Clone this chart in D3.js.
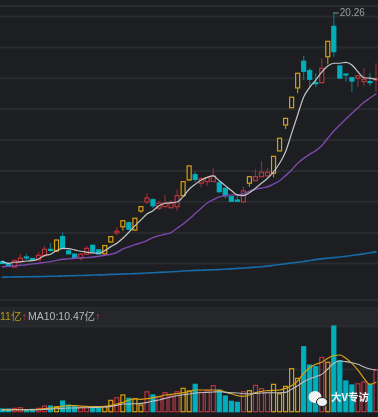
<!DOCTYPE html>
<html>
<head>
<meta charset="utf-8">
<script src="https://cdn.jsdelivr.net/npm/d3@7"></script>
<style>
  html, body { margin: 0; padding: 0; background: #1c1e22; overflow: hidden; }
  svg { display: block; filter: blur(0.25px); }
  .grid line { stroke: #2a2b2e; stroke-width: 2; }
  .grid path { display: none; }
  .line { fill: none; stroke-linejoin: round; stroke-linecap: round; }
  text { font-family: "Liberation Sans", "Noto Sans CJK SC", sans-serif; }
</style>
</head>
<body>
<div id="chart"></div>
<script>
// r = red, g = gold, c = cyan
const kinds = [
  'c','c','r','r','c','c','r','r','c','g','c','c','c','r','r','c','c','g','g','r','g',
  'c','g','g','r','c','r','r','r','r','g','g','c','r','r','r','c','c','c','c','r','g',
  'r','r','r','g','g','g','g','g','c','c','c','r','g','c','c','c','c','r','r','c','r'
];

const high = [4.20,4.00,4.26,4.59,4.59,4.33,4.70,5.10,5.28,5.49,5.97,4.89,4.63,4.63,5.10,5.17,4.89,5.13,5.71,6.34,6.74,
  6.66,6.90,7.65,8.52,8.19,8.04,8.41,8.08,8.78,9.27,10.29,9.91,9.55,9.59,10.17,9.27,8.88,8.34,8.41,8.94,9.59,
  10.09,10.61,10.17,10.91,12.08,13.37,14.74,16.29,17.41,16.61,16.29,17.26,18.36,20.26,16.83,16.29,16.03,16.16,16.61,16.29,16.94];
const low = [3.94,3.81,3.71,4.07,4.20,4.13,4.13,4.41,4.73,4.73,4.89,4.59,4.31,4.15,4.52,4.70,4.59,4.54,5.32,5.82,6.09,
  6.14,6.09,7.26,7.82,7.55,7.44,7.61,7.55,7.37,8.34,9.33,9.23,8.90,9.01,9.27,8.55,8.19,7.97,7.95,7.87,8.94,
  9.33,9.59,9.64,9.55,11.26,12.68,14.06,15.00,15.85,15.38,15.38,15.68,16.87,17.36,15.94,15.75,15.06,15.42,15.47,15.47,15.10];
// body top and bottom
const bodyTop = [4.09,3.98,4.15,4.31,4.39,4.29,4.50,4.89,4.88,5.49,5.71,4.78,4.57,4.57,4.95,5.15,4.85,5.13,5.71,6.06,6.74,
  6.61,6.90,7.65,8.21,8.10,7.87,7.87,7.87,8.36,9.27,10.29,9.72,9.46,9.53,9.64,9.20,8.84,8.30,8.08,8.67,9.59,
  9.59,9.88,9.88,10.91,12.08,13.37,14.74,16.29,17.07,16.46,15.68,16.61,18.36,19.33,16.76,16.24,16.00,16.13,15.90,15.75,15.94];
const bodyBottom = [3.97,3.81,3.74,4.09,4.35,4.17,4.20,4.48,4.85,4.78,4.95,4.59,4.35,4.31,4.57,4.73,4.59,4.59,5.36,5.95,6.35,
  6.19,6.14,7.37,7.95,7.71,7.55,7.65,7.58,7.65,8.36,9.38,9.42,9.17,9.27,9.27,8.62,8.36,8.00,8.00,7.97,9.17,
  9.33,9.59,9.64,9.81,11.26,12.94,14.06,15.34,16.42,15.90,15.64,15.68,17.36,17.69,15.98,16.20,15.79,15.97,15.75,15.71,15.85];

const ma5 = [4.09,3.98,4.05,4.07,4.13,4.15,4.26,4.48,4.57,4.80,4.95,4.93,4.85,4.76,4.70,4.65,4.63,4.80,5.06,5.28,5.60,
  5.99,6.40,6.79,7.18,7.39,7.71,7.87,7.91,7.95,8.30,8.78,9.10,9.38,9.55,9.64,9.33,9.01,8.69,8.41,8.36,8.55,
  8.84,9.17,9.49,9.91,10.46,11.21,12.40,13.59,14.75,15.38,15.85,16.36,16.76,16.94,16.94,17.00,16.83,16.39,16.00,15.97,15.90];
const ma10 = [3.76,3.78,3.81,3.85,3.89,3.94,3.98,4.04,4.09,4.17,4.24,4.27,4.31,4.33,4.35,4.39,4.44,4.50,4.57,4.68,4.91,
  5.04,5.19,5.30,5.45,5.64,5.77,5.86,5.97,6.25,6.53,6.85,7.20,7.55,7.89,8.10,8.28,8.36,8.41,8.41,8.47,8.65,
  8.78,8.86,8.94,9.12,9.33,9.66,10.03,10.46,10.78,11.04,11.28,11.60,12.08,12.55,12.94,13.33,13.70,14.06,14.41,14.69,14.95];
const ma250 = [3.08,3.09,3.10,3.10,3.11,3.12,3.12,3.13,3.14,3.14,3.16,3.17,3.18,3.19,3.20,3.22,3.23,3.24,3.26,3.27,3.29,
  3.30,3.31,3.33,3.35,3.37,3.39,3.41,3.43,3.45,3.48,3.50,3.52,3.53,3.55,3.56,3.58,3.60,3.62,3.65,3.67,3.70,
  3.73,3.76,3.80,3.85,3.90,3.95,4.00,4.05,4.10,4.16,4.22,4.27,4.31,4.35,4.39,4.44,4.49,4.54,4.59,4.66,4.72];

const volume = [.67,.67,.84,1.0,.42,.59,.84,1.42,1.42,1.26,2.68,1.67,1.26,1.0,1.26,1.26,.84,1.26,2.85,3.5,4.2,
  3.35,3.26,1.67,5.0,4.2,3.77,4.77,3.93,5.0,5.86,5.2,6.86,4.85,5.27,6.53,5.44,3.93,2.6,2.34,5.0,5.27,
  6.6,5.77,4.77,6.86,4.52,6.36,10.8,8.37,16.3,11.7,11.3,13.6,12.4,21.5,12.8,7.7,6.7,7.0,7.5,6.86,10.5];
const volMa5 = [.50,.50,.50,.50,.50,.50,.59,.75,.92,1.0,1.42,1.51,1.51,1.42,1.34,1.26,1.26,1.34,1.59,1.93,2.34,
  2.93,3.18,3.10,3.26,3.52,3.77,4.19,4.35,4.52,4.77,5.02,5.44,5.44,5.44,5.44,5.36,4.94,4.52,4.02,3.85,4.19,
  4.77,5.11,5.27,5.36,5.44,5.86,6.53,7.70,9.63,11.05,11.89,12.39,13.39,14.06,14.23,13.39,12.14,10.46,8.37,6.86,7.37];
const volMa10 = [.42,.42,.50,.50,.50,.50,.50,.59,.67,.75,.84,.92,.92,1.0,1.0,1.09,1.09,1.17,1.34,1.59,1.93,
  1.93,2.01,2.09,2.34,2.68,2.93,3.35,3.68,4.02,4.27,4.44,4.69,4.77,4.85,4.94,5.02,4.85,4.77,4.69,4.52,4.52,
  4.60,4.69,4.77,4.77,4.77,4.85,5.61,6.53,7.53,8.29,8.79,9.37,10.71,12.14,12.72,12.56,12.30,11.89,11.22,10.71,10.47];

const priceTicks = [4, 6, 8, 10, 12, 14, 16, 18, 20];
const volTicks = [10.7, 21.5];
const maxLabel = '20.26';

const width = 378;
const height = 417;

const colors = { r: '#bd343c', g: '#d9a00f', c: '#00aebc' };
const wickColors = { r: '#8d2c34', g: '#b98812', c: '#0f7480' };

const xScale = d3.scaleLinear()
  .domain([0, kinds.length - 1])
  .range([2.3, 376]);

const yScale = d3.scaleLinear()
  .domain([4, 20])
  .range([263, 16]);

const vScale = d3.scaleLinear()
  .domain([0, 21.5])
  .range([411.7, 326]);

const line = d3.line()
  .x((d, i) => xScale(i))
  .y(d => yScale(d))
  .curve(d3.curveMonotoneX);

const volLine = d3.line()
  .x((d, i) => xScale(i))
  .y(d => vScale(d))
  .curve(d3.curveMonotoneX);

const svg = d3.select('#chart')
  .append('svg')
    .attr('width', width)
    .attr('height', height);

svg.append('rect')
  .attr('width', width)
  .attr('height', height)
  .attr('fill', '#1c1e22');

// top frame line and the legend band between the panels
svg.append('rect').attr('x', 0).attr('y', 5).attr('width', width).attr('height', 2).attr('fill', '#2a2b2e');
svg.append('rect').attr('x', 0).attr('y', 299).attr('width', width).attr('height', 2).attr('fill', '#2a2b2e');
svg.append('rect').attr('x', 0).attr('y', 307).attr('width', width).attr('height', 20).attr('fill', '#26272a');

// gridlines
svg.append('g')
  .attr('class', 'grid')
  .call(d3.axisLeft(yScale).tickValues(priceTicks).tickSize(-width).tickFormat(''));

svg.append('g')
  .attr('class', 'grid')
  .call(d3.axisLeft(vScale).tickValues(volTicks).tickSize(-width).tickFormat(''));

// bottom strip under the volume bars
svg.append('rect')
  .attr('x', 0)
  .attr('y', vScale(0))
  .attr('width', width)
  .attr('height', height - vScale(0))
  .attr('fill', '#191b1f');

// wicks
svg.append('g').selectAll('line')
    .data(kinds)
  .enter().append('line')
    .attr('x1', (d, i) => xScale(i))
    .attr('x2', (d, i) => xScale(i))
    .attr('y1', (d, i) => yScale(high[i]))
    .attr('y2', (d, i) => yScale(low[i]))
    .attr('stroke', d => wickColors[d])
    .attr('stroke-width', 1.2);

// candle bodies, cyan ones are filled
svg.append('g').selectAll('rect')
    .data(kinds)
  .enter().append('rect')
    .attr('x', (d, i) => xScale(i) - 2)
    .attr('width', 4)
    .attr('y', (d, i) => yScale(bodyTop[i]))
    .attr('height', (d, i) => Math.max(yScale(bodyBottom[i]) - yScale(bodyTop[i]), 1))
    .attr('fill', d => d === 'c' ? colors.c : '#1c1e22')
    .attr('stroke', d => colors[d])
    .attr('stroke-width', 1.2);

svg.append('path').attr('class', 'line').attr('d', line(ma250)).attr('stroke', '#176aa6').attr('stroke-width', 1.6);
svg.append('path').attr('class', 'line').attr('d', line(ma10)).attr('stroke', '#7d49ad').attr('stroke-width', 1.4);
svg.append('path').attr('class', 'line').attr('d', line(ma5)).attr('stroke', '#c6c6c6').attr('stroke-width', 1.2);

// high label on the tallest candle
const topIndex = d3.maxIndex(high);
svg.append('line')
  .attr('x1', xScale(topIndex))
  .attr('x2', xScale(topIndex) + 5)
  .attr('y1', yScale(high[topIndex]) + 1)
  .attr('y2', yScale(high[topIndex]) + 1)
  .attr('stroke', '#8b8f93');
svg.append('text')
  .attr('x', xScale(topIndex) + 6)
  .attr('y', yScale(high[topIndex]) + 4.5)
  .attr('font-size', 10)
  .attr('fill', '#9a9ea2')
  .text(maxLabel);

// volume bars
svg.append('g').selectAll('rect')
    .data(kinds)
  .enter().append('rect')
    .attr('x', (d, i) => xScale(i) - 2)
    .attr('width', 4)
    .attr('y', (d, i) => vScale(volume[i]))
    .attr('height', (d, i) => vScale(0) - vScale(volume[i]))
    .attr('fill', d => d === 'c' ? colors.c : 'none')
    .attr('stroke', d => colors[d])
    .attr('stroke-width', 1.2);

svg.append('path').attr('class', 'line').attr('d', volLine(volMa5)).attr('stroke', '#d9a00f').attr('stroke-width', 1.2);
svg.append('path').attr('class', 'line').attr('d', volLine(volMa10)).attr('stroke', '#bdbdbd').attr('stroke-width', 1.1);

// legend
const legend = svg.append('text')
  .attr('y', 320)
  .attr('font-size', 10.5);
legend.append('tspan').attr('x', 0).attr('fill', '#b59a1a').text('11亿');
legend.append('tspan').attr('fill', '#e23a3a').attr('font-weight', 'bold').text('↑');
legend.append('tspan').attr('x', 28).attr('fill', '#b4b7ba').text('MA10:10.47亿');
legend.append('tspan').attr('fill', '#e23a3a').attr('font-weight', 'bold').text('↑');

// watermark
const mark = svg.append('g').attr('fill', '#f2f2f2');
mark.append('ellipse').attr('cx', 315).attr('cy', 397).attr('rx', 6.5).attr('ry', 6);
mark.append('ellipse').attr('cx', 322).attr('cy', 402).attr('rx', 5.5).attr('ry', 4.5)
  .attr('stroke', '#1c1e22').attr('stroke-width', 1);
svg.append('text')
  .attr('x', 331)
  .attr('y', 401)
  .attr('font-size', 10.5)
  .attr('fill', '#f4f4f4')
  .attr('font-weight', 'bold')
  .style('font-family', '"Noto Sans CJK SC", sans-serif')
  .text('大V专访');
</script>
</body>
</html>
